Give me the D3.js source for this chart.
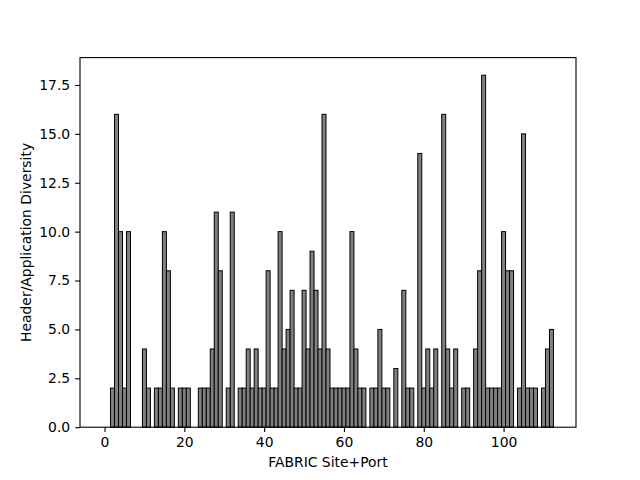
<!DOCTYPE html>
<html>
<head>
<meta charset="utf-8">
<script src="https://cdn.jsdelivr.net/npm/d3@7"></script>
<style>
  body { margin: 0; background: #fff; }
  svg { display: block; font-family: "DejaVu Sans", sans-serif; }
</style>
</head>
<body>
<svg id="chart" width="640" height="480"></svg>
<script>
// Site+Port indices 0..112
const sites = d3.range(0, 113);
const diversity = [
  0, 0, 2, 16, 10, 2, 10, 0, 0, 0,
  4, 2, 0, 2, 2, 10, 8, 2, 0, 2,
  2, 2, 0, 0, 2, 2, 2, 4, 11, 8,
  0, 2, 11, 0, 2, 2, 4, 2, 4, 2,
  2, 8, 2, 2, 10, 4, 5, 7, 2, 2,
  7, 4, 9, 7, 4, 16, 4, 2, 2, 2,
  2, 2, 10, 4, 2, 2, 0, 2, 2, 5,
  2, 2, 0, 3, 0, 7, 2, 2, 0, 14,
  2, 4, 2, 4, 0, 16, 4, 2, 4, 0,
  2, 2, 0, 4, 8, 18, 2, 2, 2, 2,
  10, 8, 8, 0, 2, 15, 2, 2, 2, 0,
  2, 4, 5
];
const xTicks = [0, 20, 40, 60, 80, 100];
const yTicks = [0, 2.5, 5, 7.5, 10, 12.5, 15, 17.5];
const xLabel = "FABRIC Site+Port";
const yLabel = "Header/Application Diversity";

(function () {
const svg = d3.select("#chart");
const mL = 80, mR = 576, mT = 57.6, mB = 427.2;

const xMin = d3.min(sites) - 0.5, xMax = d3.max(sites) + 0.5;
const xPad = (xMax - xMin) * 0.05;
const x = d3.scaleLinear().domain([xMin - xPad, xMax + xPad]).range([mL, mR]);
const yMax = d3.max(diversity) * 1.05;
const y = d3.scaleLinear().domain([0, yMax]).range([mB, mT]);

const data = sites.map((s, i) => ({ s, v: diversity[i] }));

svg.append("g").selectAll("rect").data(data.filter(d => d.v > 0)).join("rect")
  .attr("x", d => x(d.s - 0.5))
  .attr("width", d => x(d.s + 0.5) - x(d.s - 0.5))
  .attr("y", d => y(d.v))
  .attr("height", d => y(0) - y(d.v))
  .attr("fill", "#808080")
  .attr("stroke", "#000")
  .attr("stroke-width", 1);

const fs = 13.9;
const xAxis = d3.axisBottom(x).tickValues(xTicks).tickFormat(d3.format("d"))
  .tickSize(4.9).tickPadding(4.9);
const gx = svg.append("g").attr("transform", `translate(0,${mB})`).call(xAxis);
const yAxis = d3.axisLeft(y).tickValues(yTicks).tickFormat(d3.format(".1f"))
  .tickSize(4.9).tickPadding(4.9);
const gy = svg.append("g").attr("transform", `translate(${mL},0)`).call(yAxis);
[gx, gy].forEach(g => {
  g.select(".domain").remove();
  g.selectAll("line").attr("stroke", "#000").attr("stroke-width", 1.1);
  g.selectAll("text").attr("fill", "#000").style("font-size", fs + "px")
    .style("font-family", "'DejaVu Sans', sans-serif");
});

svg.append("rect")
  .attr("x", mL).attr("y", mT)
  .attr("width", mR - mL).attr("height", mB - mT)
  .attr("fill", "none").attr("stroke", "#000").attr("stroke-width", 1.1);

svg.append("text")
  .attr("x", (mL + mR) / 2).attr("y", 467)
  .attr("text-anchor", "middle")
  .style("font-size", fs + "px")
  .text(xLabel);

svg.append("text")
  .attr("transform", `translate(31,${(mT + mB) / 2}) rotate(-90)`)
  .attr("text-anchor", "middle")
  .style("font-size", fs + "px")
  .text(yLabel);
})();
</script>
</body>
</html>
